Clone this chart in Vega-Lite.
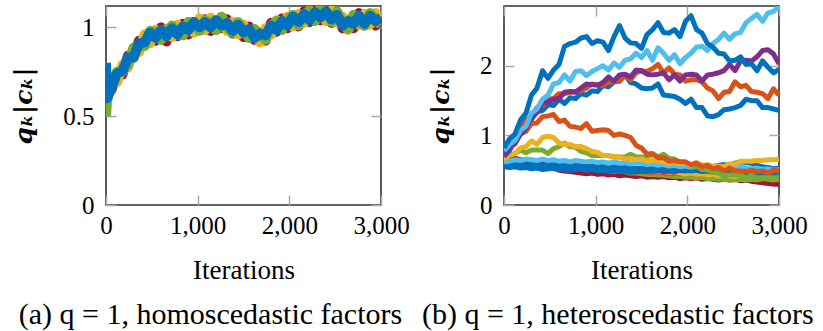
{
"$schema":"https://vega.github.io/schema/vega-lite/v6.json",
"background":"white",
"padding":{"left":10,"top":4,"right":2,"bottom":2},
"bounds":"flush",
"spacing":123,
"resolve":{"scale":{"color":"independent"}},
"config":{
 "font":"Liberation Serif",
 "view":{"stroke":"#333333","strokeWidth":1.6},
 "axis":{"labelFont":"Liberation Serif","labelFontSize":25,"labelColor":"#000000","labelFlush":false,"labelOverlap":false,"titleFont":"Liberation Serif","titleFontSize":27,"titleFontWeight":"normal","titleColor":"#000000","domain":false,"grid":false,"tickColor":"#aaaaaa","tickSize":-10,"tickWidth":1.5},
 "axisLeft":{"labelPadding":22,"titlePadding":26,"titleFont":"DejaVu Serif","titleFontStyle":"italic","titleFontWeight":"bold","titleFontSize":25},
 "axisBottom":{"labelPadding":18,"titlePadding":19},
 "title":{"font":"Liberation Serif","fontSize":30,"fontWeight":"normal","orient":"bottom","frame":"bounds","anchor":"middle","color":"#000000","offset":17}
},
"datasets":{
"a":[
{"s":"aR","x":0,"y":0.7},{"s":"aR","x":10,"y":0.62},{"s":"aR","x":60,"y":0.65},{"s":"aR","x":120,"y":0.74},{"s":"aR","x":180,"y":0.735},{"s":"aR","x":240,"y":0.84},{"s":"aR","x":300,"y":0.83},{"s":"aR","x":360,"y":0.925},{"s":"aR","x":420,"y":0.9},{"s":"aR","x":480,"y":0.96},{"s":"aR","x":540,"y":0.925},{"s":"aR","x":600,"y":1.0},{"s":"aR","x":660,"y":0.92},{"s":"aR","x":720,"y":0.995},{"s":"aR","x":780,"y":0.95},{"s":"aR","x":840,"y":1.02},{"s":"aR","x":900,"y":0.96},{"s":"aR","x":960,"y":1.03},{"s":"aR","x":1020,"y":0.985},{"s":"aR","x":1080,"y":1.045},{"s":"aR","x":1140,"y":0.98},{"s":"aR","x":1200,"y":1.035},{"s":"aR","x":1260,"y":0.995},{"s":"aR","x":1320,"y":1.045},{"s":"aR","x":1380,"y":0.965},{"s":"aR","x":1440,"y":1.015},{"s":"aR","x":1500,"y":0.945},{"s":"aR","x":1560,"y":1.005},{"s":"aR","x":1620,"y":0.93},{"s":"aR","x":1680,"y":0.97},{"s":"aR","x":1740,"y":0.925},{"s":"aR","x":1800,"y":1.025},{"s":"aR","x":1860,"y":0.975},{"s":"aR","x":1920,"y":1.05},{"s":"aR","x":1980,"y":0.995},{"s":"aR","x":2040,"y":1.06},{"s":"aR","x":2100,"y":1.005},{"s":"aR","x":2160,"y":1.09},{"s":"aR","x":2220,"y":1.03},{"s":"aR","x":2280,"y":1.1},{"s":"aR","x":2340,"y":1.04},{"s":"aR","x":2400,"y":1.095},{"s":"aR","x":2460,"y":1.025},{"s":"aR","x":2520,"y":1.085},{"s":"aR","x":2580,"y":0.995},{"s":"aR","x":2640,"y":1.04},{"s":"aR","x":2700,"y":0.995},{"s":"aR","x":2760,"y":1.08},{"s":"aR","x":2820,"y":1.01},{"s":"aR","x":2880,"y":1.075},{"s":"aR","x":2940,"y":1.01},{"s":"aR","x":3000,"y":1.065},
{"s":"aY","x":0,"y":0.68},{"s":"aY","x":10,"y":0.64},{"s":"aY","x":60,"y":0.71},{"s":"aY","x":120,"y":0.69},{"s":"aY","x":180,"y":0.79},{"s":"aY","x":240,"y":0.775},{"s":"aY","x":300,"y":0.88},{"s":"aY","x":360,"y":0.86},{"s":"aY","x":420,"y":0.96},{"s":"aY","x":480,"y":0.91},{"s":"aY","x":540,"y":0.985},{"s":"aY","x":600,"y":0.935},{"s":"aY","x":660,"y":0.99},{"s":"aY","x":720,"y":0.945},{"s":"aY","x":780,"y":1.015},{"s":"aY","x":840,"y":0.96},{"s":"aY","x":900,"y":1.03},{"s":"aY","x":960,"y":0.97},{"s":"aY","x":1020,"y":1.05},{"s":"aY","x":1080,"y":0.985},{"s":"aY","x":1140,"y":1.055},{"s":"aY","x":1200,"y":0.985},{"s":"aY","x":1260,"y":1.05},{"s":"aY","x":1320,"y":0.98},{"s":"aY","x":1380,"y":1.03},{"s":"aY","x":1440,"y":0.96},{"s":"aY","x":1500,"y":1.015},{"s":"aY","x":1560,"y":0.945},{"s":"aY","x":1620,"y":0.985},{"s":"aY","x":1680,"y":0.915},{"s":"aY","x":1740,"y":0.995},{"s":"aY","x":1800,"y":0.96},{"s":"aY","x":1860,"y":1.04},{"s":"aY","x":1920,"y":0.99},{"s":"aY","x":1980,"y":1.06},{"s":"aY","x":2040,"y":1.005},{"s":"aY","x":2100,"y":1.075},{"s":"aY","x":2160,"y":1.025},{"s":"aY","x":2220,"y":1.095},{"s":"aY","x":2280,"y":1.04},{"s":"aY","x":2340,"y":1.105},{"s":"aY","x":2400,"y":1.035},{"s":"aY","x":2460,"y":1.095},{"s":"aY","x":2520,"y":1.025},{"s":"aY","x":2580,"y":1.06},{"s":"aY","x":2640,"y":0.985},{"s":"aY","x":2700,"y":1.065},{"s":"aY","x":2760,"y":1.015},{"s":"aY","x":2820,"y":1.075},{"s":"aY","x":2880,"y":1.015},{"s":"aY","x":2940,"y":1.08},{"s":"aY","x":3000,"y":1.02},
{"s":"aG","x":0,"y":0.5},{"s":"aG","x":10,"y":0.58},{"s":"aG","x":60,"y":0.69},{"s":"aG","x":120,"y":0.75},{"s":"aG","x":180,"y":0.75},{"s":"aG","x":240,"y":0.79},{"s":"aG","x":300,"y":0.885},{"s":"aG","x":360,"y":0.9},{"s":"aG","x":420,"y":0.895},{"s":"aG","x":480,"y":0.98},{"s":"aG","x":540,"y":0.97},{"s":"aG","x":600,"y":0.93},{"s":"aG","x":660,"y":0.98},{"s":"aG","x":720,"y":1.01},{"s":"aG","x":780,"y":0.96},{"s":"aG","x":840,"y":0.955},{"s":"aG","x":900,"y":1.03},{"s":"aG","x":960,"y":1.02},{"s":"aG","x":1020,"y":0.98},{"s":"aG","x":1080,"y":1.04},{"s":"aG","x":1140,"y":1.025},{"s":"aG","x":1200,"y":0.985},{"s":"aG","x":1260,"y":1.06},{"s":"aG","x":1320,"y":1.0},{"s":"aG","x":1380,"y":0.97},{"s":"aG","x":1440,"y":1.03},{"s":"aG","x":1500,"y":0.98},{"s":"aG","x":1560,"y":0.94},{"s":"aG","x":1620,"y":0.99},{"s":"aG","x":1680,"y":0.96},{"s":"aG","x":1740,"y":0.93},{"s":"aG","x":1800,"y":1.01},{"s":"aG","x":1860,"y":1.035},{"s":"aG","x":1920,"y":0.985},{"s":"aG","x":1980,"y":1.045},{"s":"aG","x":2040,"y":1.07},{"s":"aG","x":2100,"y":1.01},{"s":"aG","x":2160,"y":1.065},{"s":"aG","x":2220,"y":1.095},{"s":"aG","x":2280,"y":1.035},{"s":"aG","x":2340,"y":1.095},{"s":"aG","x":2400,"y":1.08},{"s":"aG","x":2460,"y":1.03},{"s":"aG","x":2520,"y":1.09},{"s":"aG","x":2580,"y":1.02},{"s":"aG","x":2640,"y":0.99},{"s":"aG","x":2700,"y":1.07},{"s":"aG","x":2760,"y":1.025},{"s":"aG","x":2820,"y":1.01},{"s":"aG","x":2880,"y":1.08},{"s":"aG","x":2940,"y":1.04},{"s":"aG","x":3000,"y":1.015},
{"s":"aB","x":0,"y":0.8},{"s":"aB","x":10,"y":0.6},{"s":"aB","x":60,"y":0.66},{"s":"aB","x":120,"y":0.74},{"s":"aB","x":180,"y":0.755},{"s":"aB","x":240,"y":0.83},{"s":"aB","x":300,"y":0.83},{"s":"aB","x":360,"y":0.91},{"s":"aB","x":420,"y":0.915},{"s":"aB","x":480,"y":0.97},{"s":"aB","x":540,"y":0.94},{"s":"aB","x":600,"y":0.985},{"s":"aB","x":660,"y":0.95},{"s":"aB","x":720,"y":0.995},{"s":"aB","x":780,"y":0.96},{"s":"aB","x":840,"y":1.005},{"s":"aB","x":900,"y":0.985},{"s":"aB","x":960,"y":1.03},{"s":"aB","x":1020,"y":1.0},{"s":"aB","x":1080,"y":1.03},{"s":"aB","x":1140,"y":1.0},{"s":"aB","x":1200,"y":1.04},{"s":"aB","x":1260,"y":1.01},{"s":"aB","x":1320,"y":1.025},{"s":"aB","x":1380,"y":0.98},{"s":"aB","x":1440,"y":1.015},{"s":"aB","x":1500,"y":0.97},{"s":"aB","x":1560,"y":0.99},{"s":"aB","x":1620,"y":0.94},{"s":"aB","x":1680,"y":0.965},{"s":"aB","x":1740,"y":0.955},{"s":"aB","x":1800,"y":1.01},{"s":"aB","x":1860,"y":0.985},{"s":"aB","x":1920,"y":1.035},{"s":"aB","x":1980,"y":1.01},{"s":"aB","x":2040,"y":1.06},{"s":"aB","x":2100,"y":1.03},{"s":"aB","x":2160,"y":1.075},{"s":"aB","x":2220,"y":1.04},{"s":"aB","x":2280,"y":1.085},{"s":"aB","x":2340,"y":1.055},{"s":"aB","x":2400,"y":1.09},{"s":"aB","x":2460,"y":1.045},{"s":"aB","x":2520,"y":1.07},{"s":"aB","x":2580,"y":1.01},{"s":"aB","x":2640,"y":1.035},{"s":"aB","x":2700,"y":1.02},{"s":"aB","x":2760,"y":1.065},{"s":"aB","x":2820,"y":1.02},{"s":"aB","x":2880,"y":1.065},{"s":"aB","x":2940,"y":1.035},{"s":"aB","x":3000,"y":1.055}
],
"b":[
{"s":"R1","x":0,"y":0.62},{"s":"R1","x":60,"y":0.6},{"s":"R1","x":120,"y":0.59},{"s":"R1","x":180,"y":0.58},{"s":"R1","x":240,"y":0.56},{"s":"R1","x":300,"y":0.55},{"s":"R1","x":360,"y":0.54},{"s":"R1","x":420,"y":0.53},{"s":"R1","x":480,"y":0.52},{"s":"R1","x":540,"y":0.53},{"s":"R1","x":600,"y":0.5},{"s":"R1","x":660,"y":0.49},{"s":"R1","x":720,"y":0.48},{"s":"R1","x":780,"y":0.47},{"s":"R1","x":840,"y":0.46},{"s":"R1","x":900,"y":0.45},{"s":"R1","x":960,"y":0.46},{"s":"R1","x":1020,"y":0.44},{"s":"R1","x":1080,"y":0.45},{"s":"R1","x":1140,"y":0.43},{"s":"R1","x":1200,"y":0.44},{"s":"R1","x":1260,"y":0.42},{"s":"R1","x":1320,"y":0.43},{"s":"R1","x":1380,"y":0.42},{"s":"R1","x":1440,"y":0.41},{"s":"R1","x":1500,"y":0.42},{"s":"R1","x":1560,"y":0.4},{"s":"R1","x":1620,"y":0.41},{"s":"R1","x":1680,"y":0.4},{"s":"R1","x":1740,"y":0.41},{"s":"R1","x":1800,"y":0.39},{"s":"R1","x":1860,"y":0.4},{"s":"R1","x":1920,"y":0.38},{"s":"R1","x":1980,"y":0.39},{"s":"R1","x":2040,"y":0.38},{"s":"R1","x":2100,"y":0.39},{"s":"R1","x":2160,"y":0.37},{"s":"R1","x":2220,"y":0.38},{"s":"R1","x":2280,"y":0.37},{"s":"R1","x":2340,"y":0.36},{"s":"R1","x":2400,"y":0.37},{"s":"R1","x":2460,"y":0.36},{"s":"R1","x":2520,"y":0.37},{"s":"R1","x":2580,"y":0.35},{"s":"R1","x":2640,"y":0.36},{"s":"R1","x":2700,"y":0.34},{"s":"R1","x":2760,"y":0.33},{"s":"R1","x":2820,"y":0.32},{"s":"R1","x":2880,"y":0.31},{"s":"R1","x":2940,"y":0.3},{"s":"R1","x":3000,"y":0.3},
{"s":"R2","x":0,"y":0.68},{"s":"R2","x":60,"y":0.66},{"s":"R2","x":120,"y":0.67},{"s":"R2","x":180,"y":0.65},{"s":"R2","x":240,"y":0.64},{"s":"R2","x":300,"y":0.63},{"s":"R2","x":360,"y":0.62},{"s":"R2","x":420,"y":0.61},{"s":"R2","x":480,"y":0.6},{"s":"R2","x":540,"y":0.6},{"s":"R2","x":600,"y":0.59},{"s":"R2","x":660,"y":0.58},{"s":"R2","x":720,"y":0.58},{"s":"R2","x":780,"y":0.57},{"s":"R2","x":840,"y":0.56},{"s":"R2","x":900,"y":0.56},{"s":"R2","x":960,"y":0.55},{"s":"R2","x":1020,"y":0.54},{"s":"R2","x":1080,"y":0.54},{"s":"R2","x":1140,"y":0.53},{"s":"R2","x":1200,"y":0.52},{"s":"R2","x":1260,"y":0.52},{"s":"R2","x":1320,"y":0.51},{"s":"R2","x":1380,"y":0.51},{"s":"R2","x":1440,"y":0.5},{"s":"R2","x":1500,"y":0.5},{"s":"R2","x":1560,"y":0.49},{"s":"R2","x":1620,"y":0.48},{"s":"R2","x":1680,"y":0.48},{"s":"R2","x":1740,"y":0.47},{"s":"R2","x":1800,"y":0.47},{"s":"R2","x":1860,"y":0.46},{"s":"R2","x":1920,"y":0.46},{"s":"R2","x":1980,"y":0.45},{"s":"R2","x":2040,"y":0.45},{"s":"R2","x":2100,"y":0.44},{"s":"R2","x":2160,"y":0.44},{"s":"R2","x":2220,"y":0.44},{"s":"R2","x":2280,"y":0.43},{"s":"R2","x":2340,"y":0.43},{"s":"R2","x":2400,"y":0.42},{"s":"R2","x":2460,"y":0.42},{"s":"R2","x":2520,"y":0.42},{"s":"R2","x":2580,"y":0.41},{"s":"R2","x":2640,"y":0.42},{"s":"R2","x":2700,"y":0.41},{"s":"R2","x":2760,"y":0.4},{"s":"R2","x":2820,"y":0.41},{"s":"R2","x":2880,"y":0.4},{"s":"R2","x":2940,"y":0.39},{"s":"R2","x":3000,"y":0.4},
{"s":"G2","x":0,"y":0.62},{"s":"G2","x":60,"y":0.61},{"s":"G2","x":120,"y":0.62},{"s":"G2","x":180,"y":0.6},{"s":"G2","x":240,"y":0.61},{"s":"G2","x":300,"y":0.59},{"s":"G2","x":360,"y":0.6},{"s":"G2","x":420,"y":0.58},{"s":"G2","x":480,"y":0.59},{"s":"G2","x":540,"y":0.57},{"s":"G2","x":600,"y":0.57},{"s":"G2","x":660,"y":0.56},{"s":"G2","x":720,"y":0.55},{"s":"G2","x":780,"y":0.55},{"s":"G2","x":840,"y":0.54},{"s":"G2","x":900,"y":0.53},{"s":"G2","x":960,"y":0.53},{"s":"G2","x":1020,"y":0.51},{"s":"G2","x":1080,"y":0.51},{"s":"G2","x":1140,"y":0.5},{"s":"G2","x":1200,"y":0.49},{"s":"G2","x":1260,"y":0.48},{"s":"G2","x":1320,"y":0.48},{"s":"G2","x":1380,"y":0.46},{"s":"G2","x":1440,"y":0.46},{"s":"G2","x":1500,"y":0.45},{"s":"G2","x":1560,"y":0.44},{"s":"G2","x":1620,"y":0.44},{"s":"G2","x":1680,"y":0.43},{"s":"G2","x":1740,"y":0.43},{"s":"G2","x":1800,"y":0.42},{"s":"G2","x":1860,"y":0.41},{"s":"G2","x":1920,"y":0.41},{"s":"G2","x":1980,"y":0.4},{"s":"G2","x":2040,"y":0.4},{"s":"G2","x":2100,"y":0.39},{"s":"G2","x":2160,"y":0.39},{"s":"G2","x":2220,"y":0.38},{"s":"G2","x":2280,"y":0.38},{"s":"G2","x":2340,"y":0.37},{"s":"G2","x":2400,"y":0.37},{"s":"G2","x":2460,"y":0.36},{"s":"G2","x":2520,"y":0.36},{"s":"G2","x":2580,"y":0.37},{"s":"G2","x":2640,"y":0.36},{"s":"G2","x":2700,"y":0.37},{"s":"G2","x":2760,"y":0.36},{"s":"G2","x":2820,"y":0.38},{"s":"G2","x":2880,"y":0.37},{"s":"G2","x":2940,"y":0.36},{"s":"G2","x":3000,"y":0.37},
{"s":"O3","x":0,"y":0.6},{"s":"O3","x":60,"y":0.59},{"s":"O3","x":120,"y":0.6},{"s":"O3","x":180,"y":0.58},{"s":"O3","x":240,"y":0.59},{"s":"O3","x":300,"y":0.57},{"s":"O3","x":360,"y":0.58},{"s":"O3","x":420,"y":0.56},{"s":"O3","x":480,"y":0.57},{"s":"O3","x":540,"y":0.55},{"s":"O3","x":600,"y":0.55},{"s":"O3","x":660,"y":0.54},{"s":"O3","x":720,"y":0.53},{"s":"O3","x":780,"y":0.53},{"s":"O3","x":840,"y":0.52},{"s":"O3","x":900,"y":0.51},{"s":"O3","x":960,"y":0.51},{"s":"O3","x":1020,"y":0.5},{"s":"O3","x":1080,"y":0.5},{"s":"O3","x":1140,"y":0.49},{"s":"O3","x":1200,"y":0.49},{"s":"O3","x":1260,"y":0.48},{"s":"O3","x":1320,"y":0.49},{"s":"O3","x":1380,"y":0.48},{"s":"O3","x":1440,"y":0.47},{"s":"O3","x":1500,"y":0.48},{"s":"O3","x":1560,"y":0.47},{"s":"O3","x":1620,"y":0.46},{"s":"O3","x":1680,"y":0.47},{"s":"O3","x":1740,"y":0.46},{"s":"O3","x":1800,"y":0.45},{"s":"O3","x":1860,"y":0.46},{"s":"O3","x":1920,"y":0.45},{"s":"O3","x":1980,"y":0.46},{"s":"O3","x":2040,"y":0.45},{"s":"O3","x":2100,"y":0.44},{"s":"O3","x":2160,"y":0.45},{"s":"O3","x":2220,"y":0.44},{"s":"O3","x":2280,"y":0.45},{"s":"O3","x":2340,"y":0.44},{"s":"O3","x":2400,"y":0.43},{"s":"O3","x":2460,"y":0.44},{"s":"O3","x":2520,"y":0.45},{"s":"O3","x":2580,"y":0.44},{"s":"O3","x":2640,"y":0.45},{"s":"O3","x":2700,"y":0.44},{"s":"O3","x":2760,"y":0.46},{"s":"O3","x":2820,"y":0.45},{"s":"O3","x":2880,"y":0.44},{"s":"O3","x":2940,"y":0.46},{"s":"O3","x":3000,"y":0.45},
{"s":"Y2","x":0,"y":0.6},{"s":"Y2","x":60,"y":0.62},{"s":"Y2","x":120,"y":0.6},{"s":"Y2","x":180,"y":0.61},{"s":"Y2","x":240,"y":0.59},{"s":"Y2","x":300,"y":0.61},{"s":"Y2","x":360,"y":0.6},{"s":"Y2","x":420,"y":0.59},{"s":"Y2","x":480,"y":0.61},{"s":"Y2","x":540,"y":0.59},{"s":"Y2","x":600,"y":0.58},{"s":"Y2","x":660,"y":0.59},{"s":"Y2","x":720,"y":0.57},{"s":"Y2","x":780,"y":0.58},{"s":"Y2","x":840,"y":0.56},{"s":"Y2","x":900,"y":0.57},{"s":"Y2","x":960,"y":0.55},{"s":"Y2","x":1020,"y":0.56},{"s":"Y2","x":1080,"y":0.54},{"s":"Y2","x":1140,"y":0.53},{"s":"Y2","x":1200,"y":0.54},{"s":"Y2","x":1260,"y":0.52},{"s":"Y2","x":1320,"y":0.53},{"s":"Y2","x":1380,"y":0.51},{"s":"Y2","x":1440,"y":0.5},{"s":"Y2","x":1500,"y":0.51},{"s":"Y2","x":1560,"y":0.49},{"s":"Y2","x":1620,"y":0.5},{"s":"Y2","x":1680,"y":0.48},{"s":"Y2","x":1740,"y":0.49},{"s":"Y2","x":1800,"y":0.47},{"s":"Y2","x":1860,"y":0.48},{"s":"Y2","x":1920,"y":0.46},{"s":"Y2","x":1980,"y":0.45},{"s":"Y2","x":2040,"y":0.46},{"s":"Y2","x":2100,"y":0.44},{"s":"Y2","x":2160,"y":0.45},{"s":"Y2","x":2220,"y":0.43},{"s":"Y2","x":2280,"y":0.44},{"s":"Y2","x":2340,"y":0.42},{"s":"Y2","x":2400,"y":0.43},{"s":"Y2","x":2460,"y":0.42},{"s":"Y2","x":2520,"y":0.41},{"s":"Y2","x":2580,"y":0.43},{"s":"Y2","x":2640,"y":0.42},{"s":"Y2","x":2700,"y":0.44},{"s":"Y2","x":2760,"y":0.42},{"s":"Y2","x":2820,"y":0.43},{"s":"Y2","x":2880,"y":0.42},{"s":"Y2","x":2940,"y":0.44},{"s":"Y2","x":3000,"y":0.43},
{"s":"P2","x":0,"y":0.68},{"s":"P2","x":60,"y":0.66},{"s":"P2","x":120,"y":0.65},{"s":"P2","x":180,"y":0.64},{"s":"P2","x":240,"y":0.62},{"s":"P2","x":300,"y":0.63},{"s":"P2","x":360,"y":0.61},{"s":"P2","x":420,"y":0.62},{"s":"P2","x":480,"y":0.6},{"s":"P2","x":540,"y":0.61},{"s":"P2","x":600,"y":0.59},{"s":"P2","x":660,"y":0.6},{"s":"P2","x":720,"y":0.58},{"s":"P2","x":780,"y":0.59},{"s":"P2","x":840,"y":0.57},{"s":"P2","x":900,"y":0.58},{"s":"P2","x":960,"y":0.56},{"s":"P2","x":1020,"y":0.55},{"s":"P2","x":1080,"y":0.56},{"s":"P2","x":1140,"y":0.54},{"s":"P2","x":1200,"y":0.53},{"s":"P2","x":1260,"y":0.54},{"s":"P2","x":1320,"y":0.52},{"s":"P2","x":1380,"y":0.51},{"s":"P2","x":1440,"y":0.52},{"s":"P2","x":1500,"y":0.5},{"s":"P2","x":1560,"y":0.51},{"s":"P2","x":1620,"y":0.49},{"s":"P2","x":1680,"y":0.5},{"s":"P2","x":1740,"y":0.48},{"s":"P2","x":1800,"y":0.49},{"s":"P2","x":1860,"y":0.48},{"s":"P2","x":1920,"y":0.5},{"s":"P2","x":1980,"y":0.49},{"s":"P2","x":2040,"y":0.51},{"s":"P2","x":2100,"y":0.5},{"s":"P2","x":2160,"y":0.52},{"s":"P2","x":2220,"y":0.5},{"s":"P2","x":2280,"y":0.51},{"s":"P2","x":2340,"y":0.5},{"s":"P2","x":2400,"y":0.49},{"s":"P2","x":2460,"y":0.5},{"s":"P2","x":2520,"y":0.48},{"s":"P2","x":2580,"y":0.49},{"s":"P2","x":2640,"y":0.5},{"s":"P2","x":2700,"y":0.48},{"s":"P2","x":2760,"y":0.49},{"s":"P2","x":2820,"y":0.47},{"s":"P2","x":2880,"y":0.48},{"s":"P2","x":2940,"y":0.47},{"s":"P2","x":3000,"y":0.48},
{"s":"B4","x":0,"y":0.55},{"s":"B4","x":60,"y":0.54},{"s":"B4","x":120,"y":0.55},{"s":"B4","x":180,"y":0.53},{"s":"B4","x":240,"y":0.54},{"s":"B4","x":300,"y":0.52},{"s":"B4","x":360,"y":0.53},{"s":"B4","x":420,"y":0.51},{"s":"B4","x":480,"y":0.52},{"s":"B4","x":540,"y":0.53},{"s":"B4","x":600,"y":0.51},{"s":"B4","x":660,"y":0.52},{"s":"B4","x":720,"y":0.5},{"s":"B4","x":780,"y":0.51},{"s":"B4","x":840,"y":0.52},{"s":"B4","x":900,"y":0.5},{"s":"B4","x":960,"y":0.51},{"s":"B4","x":1020,"y":0.49},{"s":"B4","x":1080,"y":0.5},{"s":"B4","x":1140,"y":0.49},{"s":"B4","x":1200,"y":0.5},{"s":"B4","x":1260,"y":0.48},{"s":"B4","x":1320,"y":0.49},{"s":"B4","x":1380,"y":0.47},{"s":"B4","x":1440,"y":0.48},{"s":"B4","x":1500,"y":0.49},{"s":"B4","x":1560,"y":0.48},{"s":"B4","x":1620,"y":0.5},{"s":"B4","x":1680,"y":0.49},{"s":"B4","x":1740,"y":0.51},{"s":"B4","x":1800,"y":0.5},{"s":"B4","x":1860,"y":0.49},{"s":"B4","x":1920,"y":0.51},{"s":"B4","x":1980,"y":0.5},{"s":"B4","x":2040,"y":0.49},{"s":"B4","x":2100,"y":0.5},{"s":"B4","x":2160,"y":0.48},{"s":"B4","x":2220,"y":0.49},{"s":"B4","x":2280,"y":0.47},{"s":"B4","x":2340,"y":0.48},{"s":"B4","x":2400,"y":0.49},{"s":"B4","x":2460,"y":0.47},{"s":"B4","x":2520,"y":0.48},{"s":"B4","x":2580,"y":0.47},{"s":"B4","x":2640,"y":0.46},{"s":"B4","x":2700,"y":0.47},{"s":"B4","x":2760,"y":0.45},{"s":"B4","x":2820,"y":0.46},{"s":"B4","x":2880,"y":0.44},{"s":"B4","x":2940,"y":0.45},{"s":"B4","x":3000,"y":0.44},
{"s":"B3","x":0,"y":0.58},{"s":"B3","x":60,"y":0.57},{"s":"B3","x":120,"y":0.59},{"s":"B3","x":180,"y":0.58},{"s":"B3","x":240,"y":0.57},{"s":"B3","x":300,"y":0.59},{"s":"B3","x":360,"y":0.58},{"s":"B3","x":420,"y":0.57},{"s":"B3","x":480,"y":0.58},{"s":"B3","x":540,"y":0.59},{"s":"B3","x":600,"y":0.57},{"s":"B3","x":660,"y":0.58},{"s":"B3","x":720,"y":0.56},{"s":"B3","x":780,"y":0.57},{"s":"B3","x":840,"y":0.56},{"s":"B3","x":900,"y":0.57},{"s":"B3","x":960,"y":0.55},{"s":"B3","x":1020,"y":0.56},{"s":"B3","x":1080,"y":0.55},{"s":"B3","x":1140,"y":0.54},{"s":"B3","x":1200,"y":0.55},{"s":"B3","x":1260,"y":0.53},{"s":"B3","x":1320,"y":0.54},{"s":"B3","x":1380,"y":0.53},{"s":"B3","x":1440,"y":0.52},{"s":"B3","x":1500,"y":0.53},{"s":"B3","x":1560,"y":0.52},{"s":"B3","x":1620,"y":0.54},{"s":"B3","x":1680,"y":0.53},{"s":"B3","x":1740,"y":0.55},{"s":"B3","x":1800,"y":0.54},{"s":"B3","x":1860,"y":0.53},{"s":"B3","x":1920,"y":0.55},{"s":"B3","x":1980,"y":0.54},{"s":"B3","x":2040,"y":0.56},{"s":"B3","x":2100,"y":0.55},{"s":"B3","x":2160,"y":0.54},{"s":"B3","x":2220,"y":0.56},{"s":"B3","x":2280,"y":0.55},{"s":"B3","x":2340,"y":0.57},{"s":"B3","x":2400,"y":0.58},{"s":"B3","x":2460,"y":0.57},{"s":"B3","x":2520,"y":0.6},{"s":"B3","x":2580,"y":0.62},{"s":"B3","x":2640,"y":0.61},{"s":"B3","x":2700,"y":0.6},{"s":"B3","x":2760,"y":0.57},{"s":"B3","x":2820,"y":0.55},{"s":"B3","x":2880,"y":0.54},{"s":"B3","x":2940,"y":0.52},{"s":"B3","x":3000,"y":0.53},
{"s":"LB2","x":0,"y":0.62},{"s":"LB2","x":60,"y":0.63},{"s":"LB2","x":120,"y":0.65},{"s":"LB2","x":180,"y":0.64},{"s":"LB2","x":240,"y":0.66},{"s":"LB2","x":300,"y":0.65},{"s":"LB2","x":360,"y":0.64},{"s":"LB2","x":420,"y":0.66},{"s":"LB2","x":480,"y":0.64},{"s":"LB2","x":540,"y":0.65},{"s":"LB2","x":600,"y":0.63},{"s":"LB2","x":660,"y":0.64},{"s":"LB2","x":720,"y":0.62},{"s":"LB2","x":780,"y":0.64},{"s":"LB2","x":840,"y":0.63},{"s":"LB2","x":900,"y":0.62},{"s":"LB2","x":960,"y":0.63},{"s":"LB2","x":1020,"y":0.61},{"s":"LB2","x":1080,"y":0.62},{"s":"LB2","x":1140,"y":0.6},{"s":"LB2","x":1200,"y":0.62},{"s":"LB2","x":1260,"y":0.6},{"s":"LB2","x":1320,"y":0.61},{"s":"LB2","x":1380,"y":0.59},{"s":"LB2","x":1440,"y":0.6},{"s":"LB2","x":1500,"y":0.6},{"s":"LB2","x":1560,"y":0.58},{"s":"LB2","x":1620,"y":0.59},{"s":"LB2","x":1680,"y":0.57},{"s":"LB2","x":1740,"y":0.58},{"s":"LB2","x":1800,"y":0.56},{"s":"LB2","x":1860,"y":0.57},{"s":"LB2","x":1920,"y":0.55},{"s":"LB2","x":1980,"y":0.56},{"s":"LB2","x":2040,"y":0.54},{"s":"LB2","x":2100,"y":0.56},{"s":"LB2","x":2160,"y":0.54},{"s":"LB2","x":2220,"y":0.55},{"s":"LB2","x":2280,"y":0.56},{"s":"LB2","x":2340,"y":0.54},{"s":"LB2","x":2400,"y":0.55},{"s":"LB2","x":2460,"y":0.56},{"s":"LB2","x":2520,"y":0.54},{"s":"LB2","x":2580,"y":0.55},{"s":"LB2","x":2640,"y":0.53},{"s":"LB2","x":2700,"y":0.52},{"s":"LB2","x":2760,"y":0.53},{"s":"LB2","x":2820,"y":0.51},{"s":"LB2","x":2880,"y":0.52},{"s":"LB2","x":2940,"y":0.5},{"s":"LB2","x":3000,"y":0.51},
{"s":"G1","x":0,"y":0.65},{"s":"G1","x":60,"y":0.71},{"s":"G1","x":120,"y":0.74},{"s":"G1","x":180,"y":0.79},{"s":"G1","x":240,"y":0.75},{"s":"G1","x":300,"y":0.79},{"s":"G1","x":360,"y":0.79},{"s":"G1","x":420,"y":0.79},{"s":"G1","x":480,"y":0.74},{"s":"G1","x":540,"y":0.81},{"s":"G1","x":600,"y":0.84},{"s":"G1","x":660,"y":0.89},{"s":"G1","x":720,"y":0.84},{"s":"G1","x":780,"y":0.83},{"s":"G1","x":840,"y":0.77},{"s":"G1","x":900,"y":0.75},{"s":"G1","x":960,"y":0.71},{"s":"G1","x":1020,"y":0.71},{"s":"G1","x":1080,"y":0.71},{"s":"G1","x":1140,"y":0.71},{"s":"G1","x":1200,"y":0.69},{"s":"G1","x":1260,"y":0.69},{"s":"G1","x":1320,"y":0.69},{"s":"G1","x":1380,"y":0.73},{"s":"G1","x":1440,"y":0.69},{"s":"G1","x":1500,"y":0.69},{"s":"G1","x":1560,"y":0.69},{"s":"G1","x":1620,"y":0.73},{"s":"G1","x":1680,"y":0.69},{"s":"G1","x":1740,"y":0.73},{"s":"G1","x":1800,"y":0.67},{"s":"G1","x":1860,"y":0.66},{"s":"G1","x":1920,"y":0.61},{"s":"G1","x":1980,"y":0.61},{"s":"G1","x":2040,"y":0.56},{"s":"G1","x":2100,"y":0.56},{"s":"G1","x":2160,"y":0.51},{"s":"G1","x":2220,"y":0.51},{"s":"G1","x":2280,"y":0.47},{"s":"G1","x":2340,"y":0.46},{"s":"G1","x":2400,"y":0.42},{"s":"G1","x":2460,"y":0.43},{"s":"G1","x":2520,"y":0.43},{"s":"G1","x":2580,"y":0.43},{"s":"G1","x":2640,"y":0.39},{"s":"G1","x":2700,"y":0.43},{"s":"G1","x":2760,"y":0.39},{"s":"G1","x":2820,"y":0.39},{"s":"G1","x":2880,"y":0.39},{"s":"G1","x":2940,"y":0.39},{"s":"G1","x":3000,"y":0.4},
{"s":"Y1","x":0,"y":0.65},{"s":"Y1","x":60,"y":0.72},{"s":"Y1","x":120,"y":0.74},{"s":"Y1","x":180,"y":0.82},{"s":"Y1","x":240,"y":0.84},{"s":"Y1","x":300,"y":0.92},{"s":"Y1","x":360,"y":0.87},{"s":"Y1","x":420,"y":0.97},{"s":"Y1","x":480,"y":0.99},{"s":"Y1","x":540,"y":0.97},{"s":"Y1","x":600,"y":0.89},{"s":"Y1","x":660,"y":0.87},{"s":"Y1","x":720,"y":0.87},{"s":"Y1","x":780,"y":0.84},{"s":"Y1","x":840,"y":0.84},{"s":"Y1","x":900,"y":0.81},{"s":"Y1","x":960,"y":0.77},{"s":"Y1","x":1020,"y":0.76},{"s":"Y1","x":1080,"y":0.71},{"s":"Y1","x":1140,"y":0.71},{"s":"Y1","x":1200,"y":0.69},{"s":"Y1","x":1260,"y":0.69},{"s":"Y1","x":1320,"y":0.66},{"s":"Y1","x":1380,"y":0.67},{"s":"Y1","x":1440,"y":0.65},{"s":"Y1","x":1500,"y":0.66},{"s":"Y1","x":1560,"y":0.63},{"s":"Y1","x":1620,"y":0.64},{"s":"Y1","x":1680,"y":0.63},{"s":"Y1","x":1740,"y":0.63},{"s":"Y1","x":1800,"y":0.59},{"s":"Y1","x":1860,"y":0.63},{"s":"Y1","x":1920,"y":0.59},{"s":"Y1","x":1980,"y":0.61},{"s":"Y1","x":2040,"y":0.57},{"s":"Y1","x":2100,"y":0.61},{"s":"Y1","x":2160,"y":0.57},{"s":"Y1","x":2220,"y":0.58},{"s":"Y1","x":2280,"y":0.55},{"s":"Y1","x":2340,"y":0.56},{"s":"Y1","x":2400,"y":0.55},{"s":"Y1","x":2460,"y":0.59},{"s":"Y1","x":2520,"y":0.59},{"s":"Y1","x":2580,"y":0.63},{"s":"Y1","x":2640,"y":0.63},{"s":"Y1","x":2700,"y":0.63},{"s":"Y1","x":2760,"y":0.64},{"s":"Y1","x":2820,"y":0.64},{"s":"Y1","x":2880,"y":0.65},{"s":"Y1","x":2940,"y":0.65},{"s":"Y1","x":3000,"y":0.66},
{"s":"O2","x":0,"y":0.7},{"s":"O2","x":60,"y":0.82},{"s":"O2","x":120,"y":0.9},{"s":"O2","x":180,"y":1.02},{"s":"O2","x":240,"y":1.06},{"s":"O2","x":300,"y":1.17},{"s":"O2","x":360,"y":1.18},{"s":"O2","x":420,"y":1.27},{"s":"O2","x":480,"y":1.28},{"s":"O2","x":540,"y":1.3},{"s":"O2","x":600,"y":1.2},{"s":"O2","x":660,"y":1.22},{"s":"O2","x":720,"y":1.13},{"s":"O2","x":780,"y":1.12},{"s":"O2","x":840,"y":1.1},{"s":"O2","x":900,"y":1.17},{"s":"O2","x":960,"y":1.06},{"s":"O2","x":1020,"y":1.07},{"s":"O2","x":1080,"y":1.08},{"s":"O2","x":1140,"y":1.07},{"s":"O2","x":1200,"y":1.0},{"s":"O2","x":1260,"y":1.02},{"s":"O2","x":1320,"y":1.0},{"s":"O2","x":1380,"y":0.97},{"s":"O2","x":1440,"y":0.86},{"s":"O2","x":1500,"y":0.82},{"s":"O2","x":1560,"y":0.73},{"s":"O2","x":1620,"y":0.74},{"s":"O2","x":1680,"y":0.68},{"s":"O2","x":1740,"y":0.68},{"s":"O2","x":1800,"y":0.63},{"s":"O2","x":1860,"y":0.64},{"s":"O2","x":1920,"y":0.62},{"s":"O2","x":1980,"y":0.62},{"s":"O2","x":2040,"y":0.58},{"s":"O2","x":2100,"y":0.6},{"s":"O2","x":2160,"y":0.55},{"s":"O2","x":2220,"y":0.57},{"s":"O2","x":2280,"y":0.52},{"s":"O2","x":2340,"y":0.54},{"s":"O2","x":2400,"y":0.49},{"s":"O2","x":2460,"y":0.53},{"s":"O2","x":2520,"y":0.49},{"s":"O2","x":2580,"y":0.49},{"s":"O2","x":2640,"y":0.48},{"s":"O2","x":2700,"y":0.5},{"s":"O2","x":2760,"y":0.48},{"s":"O2","x":2820,"y":0.49},{"s":"O2","x":2880,"y":0.46},{"s":"O2","x":2940,"y":0.5},{"s":"O2","x":3000,"y":0.49},
{"s":"B2","x":0,"y":0.7},{"s":"B2","x":60,"y":0.78},{"s":"B2","x":120,"y":0.94},{"s":"B2","x":180,"y":1.03},{"s":"B2","x":240,"y":1.17},{"s":"B2","x":300,"y":1.23},{"s":"B2","x":360,"y":1.34},{"s":"B2","x":420,"y":1.36},{"s":"B2","x":480,"y":1.44},{"s":"B2","x":540,"y":1.43},{"s":"B2","x":600,"y":1.52},{"s":"B2","x":660,"y":1.46},{"s":"B2","x":720,"y":1.54},{"s":"B2","x":780,"y":1.53},{"s":"B2","x":840,"y":1.6},{"s":"B2","x":900,"y":1.58},{"s":"B2","x":960,"y":1.64},{"s":"B2","x":1020,"y":1.63},{"s":"B2","x":1080,"y":1.72},{"s":"B2","x":1140,"y":1.7},{"s":"B2","x":1200,"y":1.77},{"s":"B2","x":1260,"y":1.78},{"s":"B2","x":1320,"y":1.87},{"s":"B2","x":1380,"y":1.76},{"s":"B2","x":1440,"y":1.74},{"s":"B2","x":1500,"y":1.68},{"s":"B2","x":1560,"y":1.67},{"s":"B2","x":1620,"y":1.68},{"s":"B2","x":1680,"y":1.74},{"s":"B2","x":1740,"y":1.58},{"s":"B2","x":1800,"y":1.57},{"s":"B2","x":1860,"y":1.56},{"s":"B2","x":1920,"y":1.52},{"s":"B2","x":1980,"y":1.46},{"s":"B2","x":2040,"y":1.52},{"s":"B2","x":2100,"y":1.4},{"s":"B2","x":2160,"y":1.4},{"s":"B2","x":2220,"y":1.28},{"s":"B2","x":2280,"y":1.27},{"s":"B2","x":2340,"y":1.3},{"s":"B2","x":2400,"y":1.37},{"s":"B2","x":2460,"y":1.38},{"s":"B2","x":2520,"y":1.4},{"s":"B2","x":2580,"y":1.43},{"s":"B2","x":2640,"y":1.52},{"s":"B2","x":2700,"y":1.5},{"s":"B2","x":2760,"y":1.5},{"s":"B2","x":2820,"y":1.4},{"s":"B2","x":2880,"y":1.4},{"s":"B2","x":2940,"y":1.38},{"s":"B2","x":3000,"y":1.36},
{"s":"O1","x":0,"y":0.72},{"s":"O1","x":60,"y":0.83},{"s":"O1","x":120,"y":1.0},{"s":"O1","x":180,"y":1.08},{"s":"O1","x":240,"y":1.22},{"s":"O1","x":300,"y":1.28},{"s":"O1","x":360,"y":1.4},{"s":"O1","x":420,"y":1.43},{"s":"O1","x":480,"y":1.52},{"s":"O1","x":540,"y":1.53},{"s":"O1","x":600,"y":1.6},{"s":"O1","x":660,"y":1.6},{"s":"O1","x":720,"y":1.62},{"s":"O1","x":780,"y":1.63},{"s":"O1","x":840,"y":1.64},{"s":"O1","x":900,"y":1.68},{"s":"O1","x":960,"y":1.74},{"s":"O1","x":1020,"y":1.73},{"s":"O1","x":1080,"y":1.72},{"s":"O1","x":1140,"y":1.76},{"s":"O1","x":1200,"y":1.77},{"s":"O1","x":1260,"y":1.78},{"s":"O1","x":1320,"y":1.87},{"s":"O1","x":1380,"y":1.8},{"s":"O1","x":1440,"y":1.9},{"s":"O1","x":1500,"y":1.93},{"s":"O1","x":1560,"y":1.92},{"s":"O1","x":1620,"y":1.96},{"s":"O1","x":1680,"y":2.02},{"s":"O1","x":1740,"y":1.9},{"s":"O1","x":1800,"y":1.97},{"s":"O1","x":1860,"y":1.88},{"s":"O1","x":1920,"y":1.87},{"s":"O1","x":1980,"y":1.78},{"s":"O1","x":2040,"y":1.8},{"s":"O1","x":2100,"y":1.8},{"s":"O1","x":2160,"y":1.77},{"s":"O1","x":2220,"y":1.68},{"s":"O1","x":2280,"y":1.64},{"s":"O1","x":2340,"y":1.53},{"s":"O1","x":2400,"y":1.62},{"s":"O1","x":2460,"y":1.63},{"s":"O1","x":2520,"y":1.77},{"s":"O1","x":2580,"y":1.7},{"s":"O1","x":2640,"y":1.72},{"s":"O1","x":2700,"y":1.63},{"s":"O1","x":2760,"y":1.62},{"s":"O1","x":2820,"y":1.6},{"s":"O1","x":2880,"y":1.53},{"s":"O1","x":2940,"y":1.67},{"s":"O1","x":3000,"y":1.58},
{"s":"P1","x":0,"y":0.7},{"s":"P1","x":60,"y":0.82},{"s":"P1","x":120,"y":0.88},{"s":"P1","x":180,"y":1.02},{"s":"P1","x":240,"y":1.1},{"s":"P1","x":300,"y":1.27},{"s":"P1","x":360,"y":1.33},{"s":"P1","x":420,"y":1.47},{"s":"P1","x":480,"y":1.48},{"s":"P1","x":540,"y":1.52},{"s":"P1","x":600,"y":1.53},{"s":"P1","x":660,"y":1.62},{"s":"P1","x":720,"y":1.63},{"s":"P1","x":780,"y":1.62},{"s":"P1","x":840,"y":1.68},{"s":"P1","x":900,"y":1.74},{"s":"P1","x":960,"y":1.73},{"s":"P1","x":1020,"y":1.72},{"s":"P1","x":1080,"y":1.76},{"s":"P1","x":1140,"y":1.84},{"s":"P1","x":1200,"y":1.78},{"s":"P1","x":1260,"y":1.87},{"s":"P1","x":1320,"y":1.88},{"s":"P1","x":1380,"y":1.84},{"s":"P1","x":1440,"y":1.94},{"s":"P1","x":1500,"y":1.93},{"s":"P1","x":1560,"y":1.88},{"s":"P1","x":1620,"y":1.87},{"s":"P1","x":1680,"y":1.88},{"s":"P1","x":1740,"y":1.9},{"s":"P1","x":1800,"y":1.8},{"s":"P1","x":1860,"y":1.87},{"s":"P1","x":1920,"y":1.78},{"s":"P1","x":1980,"y":1.87},{"s":"P1","x":2040,"y":1.88},{"s":"P1","x":2100,"y":1.87},{"s":"P1","x":2160,"y":1.78},{"s":"P1","x":2220,"y":1.87},{"s":"P1","x":2280,"y":1.88},{"s":"P1","x":2340,"y":1.9},{"s":"P1","x":2400,"y":1.93},{"s":"P1","x":2460,"y":2.02},{"s":"P1","x":2520,"y":1.93},{"s":"P1","x":2580,"y":2.07},{"s":"P1","x":2640,"y":2.08},{"s":"P1","x":2700,"y":2.07},{"s":"P1","x":2760,"y":2.13},{"s":"P1","x":2820,"y":2.22},{"s":"P1","x":2880,"y":2.23},{"s":"P1","x":2940,"y":2.17},{"s":"P1","x":3000,"y":2.03},
{"s":"LB1","x":0,"y":0.78},{"s":"LB1","x":60,"y":0.87},{"s":"LB1","x":120,"y":0.93},{"s":"LB1","x":180,"y":1.07},{"s":"LB1","x":240,"y":1.13},{"s":"LB1","x":300,"y":1.32},{"s":"LB1","x":360,"y":1.38},{"s":"LB1","x":420,"y":1.52},{"s":"LB1","x":480,"y":1.58},{"s":"LB1","x":540,"y":1.74},{"s":"LB1","x":600,"y":1.76},{"s":"LB1","x":660,"y":1.87},{"s":"LB1","x":720,"y":1.78},{"s":"LB1","x":780,"y":1.92},{"s":"LB1","x":840,"y":1.93},{"s":"LB1","x":900,"y":1.86},{"s":"LB1","x":960,"y":1.92},{"s":"LB1","x":1020,"y":1.96},{"s":"LB1","x":1080,"y":2.0},{"s":"LB1","x":1140,"y":1.94},{"s":"LB1","x":1200,"y":2.04},{"s":"LB1","x":1260,"y":1.98},{"s":"LB1","x":1320,"y":2.08},{"s":"LB1","x":1380,"y":2.1},{"s":"LB1","x":1440,"y":2.18},{"s":"LB1","x":1500,"y":2.12},{"s":"LB1","x":1560,"y":2.22},{"s":"LB1","x":1620,"y":2.08},{"s":"LB1","x":1680,"y":2.26},{"s":"LB1","x":1740,"y":2.18},{"s":"LB1","x":1800,"y":2.08},{"s":"LB1","x":1860,"y":2.16},{"s":"LB1","x":1920,"y":2.03},{"s":"LB1","x":1980,"y":2.12},{"s":"LB1","x":2040,"y":2.18},{"s":"LB1","x":2100,"y":2.27},{"s":"LB1","x":2160,"y":2.28},{"s":"LB1","x":2220,"y":2.22},{"s":"LB1","x":2280,"y":2.32},{"s":"LB1","x":2340,"y":2.38},{"s":"LB1","x":2400,"y":2.47},{"s":"LB1","x":2460,"y":2.38},{"s":"LB1","x":2520,"y":2.46},{"s":"LB1","x":2580,"y":2.48},{"s":"LB1","x":2640,"y":2.62},{"s":"LB1","x":2700,"y":2.68},{"s":"LB1","x":2760,"y":2.74},{"s":"LB1","x":2820,"y":2.64},{"s":"LB1","x":2880,"y":2.76},{"s":"LB1","x":2940,"y":2.78},{"s":"LB1","x":3000,"y":2.86},
{"s":"B1","x":0,"y":0.82},{"s":"B1","x":60,"y":0.95},{"s":"B1","x":120,"y":1.02},{"s":"B1","x":180,"y":1.22},{"s":"B1","x":240,"y":1.32},{"s":"B1","x":300,"y":1.58},{"s":"B1","x":360,"y":1.68},{"s":"B1","x":420,"y":1.93},{"s":"B1","x":480,"y":1.82},{"s":"B1","x":540,"y":1.94},{"s":"B1","x":600,"y":2.02},{"s":"B1","x":660,"y":2.28},{"s":"B1","x":720,"y":2.32},{"s":"B1","x":780,"y":2.34},{"s":"B1","x":840,"y":2.4},{"s":"B1","x":900,"y":2.42},{"s":"B1","x":960,"y":2.32},{"s":"B1","x":1020,"y":2.36},{"s":"B1","x":1080,"y":2.34},{"s":"B1","x":1140,"y":2.22},{"s":"B1","x":1200,"y":2.42},{"s":"B1","x":1260,"y":2.58},{"s":"B1","x":1320,"y":2.4},{"s":"B1","x":1380,"y":2.33},{"s":"B1","x":1440,"y":2.32},{"s":"B1","x":1500,"y":2.25},{"s":"B1","x":1560,"y":2.45},{"s":"B1","x":1620,"y":2.52},{"s":"B1","x":1680,"y":2.62},{"s":"B1","x":1740,"y":2.48},{"s":"B1","x":1800,"y":2.47},{"s":"B1","x":1860,"y":2.52},{"s":"B1","x":1920,"y":2.42},{"s":"B1","x":1980,"y":2.64},{"s":"B1","x":2040,"y":2.72},{"s":"B1","x":2100,"y":2.52},{"s":"B1","x":2160,"y":2.47},{"s":"B1","x":2220,"y":2.32},{"s":"B1","x":2280,"y":2.27},{"s":"B1","x":2340,"y":2.18},{"s":"B1","x":2400,"y":2.17},{"s":"B1","x":2460,"y":2.07},{"s":"B1","x":2520,"y":2.08},{"s":"B1","x":2580,"y":2.13},{"s":"B1","x":2640,"y":2.02},{"s":"B1","x":2700,"y":2.03},{"s":"B1","x":2760,"y":1.93},{"s":"B1","x":2820,"y":2.07},{"s":"B1","x":2880,"y":1.98},{"s":"B1","x":2940,"y":1.9},{"s":"B1","x":3000,"y":1.95}
]
},
"hconcat":[
{
 "width":275,"height":199,
 "title":{"text":"(a) q = 1, homoscedastic factors"},
 "data":{"name":"a"},
 "resolve":{"scale":{"x":"independent","y":"independent"}},
 "layer":[
  {"mark":{"type":"line","strokeWidth":10,"clip":true,"strokeJoin":"round"},
   "encoding":{
    "x":{"field":"x","type":"quantitative","scale":{"domain":[0,3000],"nice":false},"axis":{"values":[0,1000,2000,3000],"format":",d","title":"Iterations","labelFont":"Liberation Serif","titleFont":"Liberation Serif"}},
    "y":{"field":"y","type":"quantitative","scale":{"domain":[0,1.12],"nice":false,"zero":false},"axis":{"values":[0,0.5,1],"format":"~g","title":"qₖ|cₖ|","labelFont":"Liberation Serif"}},
    "color":{"field":"s","type":"nominal","scale":{"domain":["aR","aY","aG","aB"],"range":["#A2142F","#EDB120","#77AC30","#0072BD"]},"legend":null}
   }},
  {"mark":{"type":"line","strokeOpacity":0},
   "encoding":{
    "x":{"field":"x","type":"quantitative","scale":{"domain":[0,3000],"nice":false},"axis":{"orient":"top","values":[0,1000,2000,3000],"labels":false,"title":null}},
    "y":{"field":"y","type":"quantitative","scale":{"domain":[0,1.12],"nice":false,"zero":false},"axis":{"orient":"right","values":[0,0.5,1],"labels":false,"title":null}}
   }}
 ]
},
{
 "width":275,"height":199,
 "title":{"text":"(b) q = 1, heteroscedastic factors"},
 "data":{"name":"b"},
 "resolve":{"scale":{"x":"independent","y":"independent"}},
 "layer":[
  {"mark":{"type":"line","strokeWidth":5,"clip":true,"strokeJoin":"round"},
   "encoding":{
    "x":{"field":"x","type":"quantitative","scale":{"domain":[0,3000],"nice":false},"axis":{"values":[0,1000,2000,3000],"format":",d","title":"Iterations","labelFont":"Liberation Serif","titleFont":"Liberation Serif"}},
    "y":{"field":"y","type":"quantitative","scale":{"domain":[0,2.86],"nice":false,"zero":false},"axis":{"values":[0,1,2],"format":"~g","title":"qₖ|cₖ|","labelFont":"Liberation Serif"}},
    "color":{"field":"s","type":"nominal","scale":{"domain":["R1","R2","G2","O3","Y2","P2","B4","B3","LB2","G1","Y1","O2","B2","O1","P1","LB1","B1"],"range":["#A2142F","#A2142F","#77AC30","#D95319","#EDB120","#7E2F8E","#0072BD","#0072BD","#4DBEEE","#77AC30","#EDB120","#D95319","#0072BD","#D95319","#7E2F8E","#4DBEEE","#0072BD"]},"legend":null}
   }},
  {"mark":{"type":"line","strokeOpacity":0},
   "encoding":{
    "x":{"field":"x","type":"quantitative","scale":{"domain":[0,3000],"nice":false},"axis":{"orient":"top","values":[0,1000,2000,3000],"labels":false,"title":null}},
    "y":{"field":"y","type":"quantitative","scale":{"domain":[0,2.86],"nice":false,"zero":false},"axis":{"orient":"right","values":[0,1,2],"labels":false,"title":null}}
   }}
 ]
}
]
}
